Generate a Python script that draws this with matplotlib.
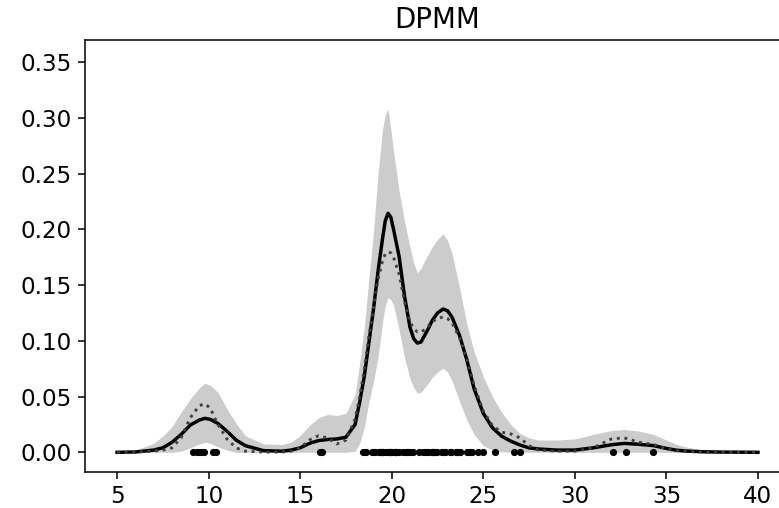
import numpy as np
import matplotlib
matplotlib.use("Agg")
import matplotlib.pyplot as plt

# observed data (galaxy velocities, 1000 km/s)
obs = [9.172, 9.350, 9.483, 9.558, 9.775, 10.227, 10.406, 16.084, 16.170, 18.419,
       18.552, 18.600, 18.927, 19.052, 19.070, 19.330, 19.343, 19.349, 19.440, 19.473,
       19.529, 19.541, 19.547, 19.663, 19.846, 19.856, 19.863, 19.914, 19.918, 19.973,
       19.989, 20.166, 20.175, 20.179, 20.196, 20.215, 20.221, 20.415, 20.629, 20.795,
       20.821, 20.846, 20.875, 20.986, 21.137, 21.492, 21.701, 21.814, 21.921, 21.960,
       22.185, 22.209, 22.242, 22.249, 22.314, 22.374, 22.495, 22.746, 22.747, 22.888,
       22.914, 23.206, 23.241, 23.263, 23.484, 23.538, 23.542, 23.666, 23.706, 23.711,
       24.129, 24.285, 24.289, 24.366, 24.717, 24.990, 25.633, 26.690, 26.995, 32.065,
       32.789, 34.279]

grid = [5, 6, 7, 7.5, 8, 8.5, 9, 9.5, 9.8, 10.1, 10.5, 11, 11.5, 12, 13, 14, 14.5,
        15, 15.5, 16, 16.5, 17, 17.5, 18, 18.25, 18.5, 18.75, 19, 19.25, 19.5, 19.65,
        19.8, 19.95, 20.1, 20.4, 20.7, 21, 21.2, 21.4, 21.6, 21.8, 22.0, 22.2, 22.5,
        22.8, 23.05, 23.3, 23.7, 24.1, 24.5, 25, 25.5, 26, 26.5, 27, 27.5, 28, 29, 30,
        31, 32, 32.7, 33.5, 34.3, 35, 35.5, 36, 37, 38, 40]

mean_density = [0.0, 0.0003, 0.002, 0.004, 0.009, 0.016, 0.0245, 0.029, 0.0305, 0.0295,
                0.026, 0.019, 0.011, 0.006, 0.0015, 0.001, 0.002, 0.004, 0.008, 0.0105,
                0.0115, 0.012, 0.0135, 0.025, 0.045, 0.068, 0.098, 0.128, 0.162, 0.192,
                0.208, 0.2145, 0.211, 0.2, 0.176, 0.14, 0.112, 0.102, 0.098, 0.099,
                0.105, 0.111, 0.118, 0.125, 0.1286, 0.127, 0.121, 0.105, 0.083, 0.057,
                0.035, 0.022, 0.0145, 0.01, 0.0066, 0.004, 0.003, 0.002, 0.002, 0.004,
                0.0068, 0.008, 0.0072, 0.006, 0.0035, 0.002, 0.0012, 0.0005, 0.0002, 0.0]

upper_band = [0.0, 0.002, 0.008, 0.0145, 0.023, 0.036, 0.048, 0.058, 0.062, 0.06,
              0.054, 0.039, 0.026, 0.015, 0.0075, 0.007, 0.009, 0.015, 0.024, 0.031,
              0.034, 0.033, 0.035, 0.052, 0.08, 0.112, 0.155, 0.197, 0.25, 0.29,
              0.303, 0.308, 0.29, 0.27, 0.235, 0.207, 0.184, 0.17, 0.161, 0.165,
              0.172, 0.178, 0.184, 0.191, 0.196, 0.19, 0.178, 0.148, 0.115, 0.09,
              0.068, 0.05, 0.036, 0.025, 0.017, 0.013, 0.011, 0.011, 0.012, 0.016,
              0.0195, 0.0205, 0.019, 0.016, 0.011, 0.0075, 0.005, 0.0018, 0.0006, 0.0]

lower_band = [0.0, 0.0, 0.0, 0.0, 0.0, 0.001, 0.004, 0.0075, 0.009, 0.008,
              0.005, 0.002, 0.0, 0.0, 0.0, 0.0, 0.0, 0.0, 0.0, 0.0,
              0.0, 0.0, 0.0, 0.001, 0.008, 0.022, 0.045, 0.063, 0.085, 0.117,
              0.132, 0.139, 0.137, 0.132, 0.11, 0.085, 0.066, 0.058, 0.053, 0.054,
              0.058, 0.062, 0.067, 0.072, 0.0754, 0.072, 0.064, 0.046, 0.029, 0.016,
              0.006, 0.002, 0.0005, 0.0, 0.0, 0.0, 0.0, 0.0, 0.0, 0.0,
              0.0, 0.0, 0.0, 0.0, 0.0, 0.0, 0.0, 0.0, 0.0, 0.0]

true_density = [0.0, 0.0002, 0.001, 0.002, 0.004, 0.013, 0.031, 0.042, 0.0435, 0.0395,
                0.025, 0.012, 0.004, 0.001, 0.0002, 0.0002, 0.001, 0.004, 0.011, 0.0148,
                0.013, 0.0075, 0.011, 0.03, 0.05, 0.074, 0.104, 0.13, 0.155, 0.172,
                0.178, 0.18, 0.179, 0.175, 0.16, 0.135, 0.117, 0.111, 0.108, 0.108,
                0.11, 0.113, 0.117, 0.12, 0.1215, 0.12, 0.116, 0.103, 0.084, 0.06,
                0.037, 0.024, 0.018, 0.0165, 0.013, 0.006, 0.002, 0.001, 0.001, 0.004,
                0.012, 0.013, 0.009, 0.007, 0.003, 0.0015, 0.0008, 0.0002, 0.0, 0.0]

S = 1.38  # scale factor of the reference rendering
plt.rcParams.update({
    'font.size': 12 * S,
    'axes.linewidth': 0.8 * S,
    'xtick.major.size': 3.5 * S, 'ytick.major.size': 3.5 * S,
    'xtick.major.width': 0.8 * S, 'ytick.major.width': 0.8 * S,
    'xtick.major.pad': 3.5 * S, 'ytick.major.pad': 3.5 * S,
    'axes.titlepad': 6 * S,
})

fig = plt.figure(figsize=(7.79, 5.08), dpi=100)
ax = fig.add_axes([85 / 779, 1 - 471.7 / 508, (790 - 85) / 779, (471.7 - 40) / 508])

ax.fill_between(grid, lower_band, upper_band, color='#cccccc', linewidth=0)
ax.plot(grid, mean_density, color='k', lw=1.8 * S)
ax.plot(grid, true_density, color='0.25', lw=1.5 * S, ls=':')
ax.plot(obs, np.zeros(len(obs)), 'k.', ms=6 * S)

ax.set_xlim(3.25, 41.75)
ax.set_ylim(-0.0174, 0.370)
ax.set_xticks([5, 10, 15, 20, 25, 30, 35, 40])
ax.set_yticks([0.0, 0.05, 0.10, 0.15, 0.20, 0.25, 0.30, 0.35])
ax.set_title("DPMM")

fig.savefig("out.png", dpi=100)
